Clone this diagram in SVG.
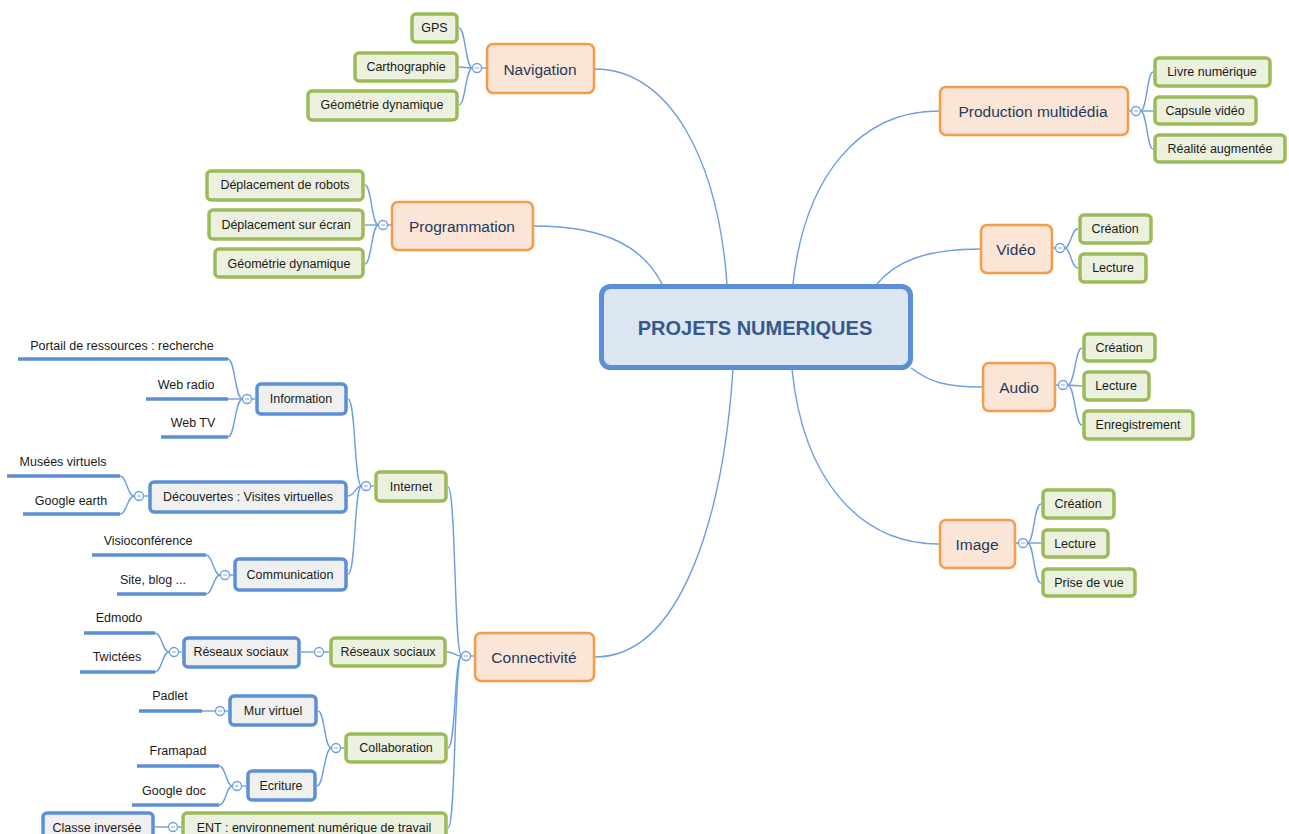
<svg xmlns="http://www.w3.org/2000/svg" width="1289" height="834" viewBox="0 0 1289 834">
  <style>
    text { font-family: "Liberation Sans", Arial, sans-serif; text-anchor: middle; dominant-baseline: central; font-size: 12.5px; fill: #1a1a1a; }
    .link { fill: none; stroke: #6c9ee2; stroke-width: 1.4; }
    .hub rect { fill: #dce6f2; stroke: #5a8ed6; stroke-width: 5; }
    .hub text { font-size: 20px; font-weight: bold; fill: #345a8a; }
    .topic rect { fill: #fbe5d6; stroke: #f79a4a; stroke-width: 2.5; }
    .topic text { font-size: 15.5px; fill: #1f3a60; }
    .leaf rect { fill: #ebf1de; stroke: #9bbb59; stroke-width: 3.5; }
    .sub rect { fill: #f0f0f0; stroke: #5b8fd6; stroke-width: 3.5; }
    .bar line { stroke: #5b8fd6; stroke-width: 3.5; }
    .bar text { dominant-baseline: auto; }
  </style>
  <defs>
    <!-- collapse button: small ring with a minus sign -->
    <g id="tog">
      <circle r="4.5" fill="#ffffff" stroke="#6c9ee2" stroke-width="1.3"/>
      <line x1="-2" y1="0" x2="2" y2="0" stroke="#9ab6dc" stroke-width="1.2"/>
    </g>
  </defs>

  <rect width="1289" height="834" fill="#ffffff"/>

  <!-- branch lines -->
  <g id="connectors">
    <!-- hub to main topics -->
    <path class="link" d="M595,69 C670,69 718,160 727,284"/>
    <path class="link" d="M534,226 C610,226 645,250 662,284"/>
    <path class="link" d="M939,111 C860,111 805,175 793,284"/>
    <path class="link" d="M980,249 C925,249 895,262 877,284"/>
    <path class="link" d="M982,387 C945,387 930,382 911,368"/>
    <path class="link" d="M939,544 C860,544 803,480 792,369"/>
    <path class="link" d="M595,657 C680,657 723,520 733,369"/>

    <!-- Navigation -->
    <path class="link" d="M486,68 L481.5,68"/>
    <path class="link" d="M472.5,68 C465.5,68 465.5,28 459,28"/>
    <path class="link" d="M472.5,68 L459,67"/>
    <path class="link" d="M472.5,68 C465.5,68 465.5,105 459,105"/>

    <!-- Programmation -->
    <path class="link" d="M391,225 L387.5,225"/>
    <path class="link" d="M378.5,225 C371.5,225 371.5,185 365,185"/>
    <path class="link" d="M378.5,225 L365,225"/>
    <path class="link" d="M378.5,225 C371.5,225 371.5,264 365,264"/>

    <!-- Production multimedia -->
    <path class="link" d="M1129,111 L1131.5,111"/>
    <path class="link" d="M1140.5,111 C1147,111 1147,72 1153,72"/>
    <path class="link" d="M1140.5,111 L1153,111"/>
    <path class="link" d="M1140.5,111 C1147,111 1147,149 1153,149"/>

    <!-- Vidéo -->
    <path class="link" d="M1053,248 L1055.5,248"/>
    <path class="link" d="M1064.5,248 C1071,248 1071,229 1078,229"/>
    <path class="link" d="M1064.5,248 C1071,248 1071,268 1078,268"/>

    <!-- Audio -->
    <path class="link" d="M1056,385 L1058.5,385"/>
    <path class="link" d="M1067.5,385 C1075,385 1075,348 1082,348"/>
    <path class="link" d="M1067.5,385 L1082,386"/>
    <path class="link" d="M1067.5,385 C1075,385 1075,425 1082,425"/>

    <!-- Image -->
    <path class="link" d="M1016,543 L1018.5,543"/>
    <path class="link" d="M1027.5,543 C1034,543 1034,504 1041,504"/>
    <path class="link" d="M1027.5,543 L1041,543"/>
    <path class="link" d="M1027.5,543 C1034,543 1034,583 1041,583"/>

    <!-- Connectivité -->
    <path class="link" d="M474,656 L470.5,656"/>
    <path class="link" d="M461.5,656 C454,656 456,487 448,487"/>
    <path class="link" d="M461.5,656 C455,656 454,652 447,652"/>
    <path class="link" d="M461.5,656 C454,656 456,748 448,748"/>
    <path class="link" d="M461.5,656 C454,656 456,828 448,828"/>

    <!-- Internet -->
    <path class="link" d="M374,486 L370.5,486"/>
    <path class="link" d="M361.5,486 C354,486 356,399 348,399"/>
    <path class="link" d="M361.5,486 C355,486 355,496 348,496"/>
    <path class="link" d="M361.5,486 C354,486 356,574 348,574"/>

    <!-- Information -->
    <path class="link" d="M255,399 L251.5,399"/>
    <path class="link" d="M242.5,399 C235,399 235,359 228,359"/>
    <path class="link" d="M242.5,399 L228,399"/>
    <path class="link" d="M242.5,399 C235,399 235,437 228,437"/>

    <!-- Découvertes -->
    <path class="link" d="M148,496 L143.5,496"/>
    <path class="link" d="M134.5,496 C127,496 127,476 120,476"/>
    <path class="link" d="M134.5,496 C127,496 127,514 120,514"/>

    <!-- Communication -->
    <path class="link" d="M233,575 L229.5,575"/>
    <path class="link" d="M220.5,575 C213,575 213,555 206,555"/>
    <path class="link" d="M220.5,575 C213,575 213,594 206,594"/>

    <!-- Réseaux sociaux -->
    <path class="link" d="M329,652 L323.5,652"/>
    <path class="link" d="M314.5,652 L301,652"/>
    <path class="link" d="M182,652 L178.5,652"/>
    <path class="link" d="M169.5,652 C162,652 162,633 155,633"/>
    <path class="link" d="M169.5,652 C162,652 162,672 155,672"/>

    <!-- Collaboration -->
    <path class="link" d="M344,748 L340.5,748"/>
    <path class="link" d="M331.5,748 C324,748 325,711 318,711"/>
    <path class="link" d="M331.5,748 C324,748 324,786 317,786"/>

    <!-- Mur virtuel / Ecriture / ENT -->
    <path class="link" d="M228,711 L224.5,711"/>
    <path class="link" d="M215.5,711 L202,711"/>
    <path class="link" d="M246,786 L241.5,786"/>
    <path class="link" d="M232.5,786 C226,786 226,766 219,766"/>
    <path class="link" d="M232.5,786 C226,786 226,805 219,805"/>
    <path class="link" d="M181,827 L177.5,827"/>
    <path class="link" d="M168.5,827 L155,827"/>
  </g>

  <!-- collapse buttons -->
  <g id="toggles">
    <use href="#tog" x="477" y="68"/>
    <use href="#tog" x="383" y="225"/>
    <use href="#tog" x="1136" y="111"/>
    <use href="#tog" x="1060" y="248"/>
    <use href="#tog" x="1063" y="385"/>
    <use href="#tog" x="1023" y="543"/>
    <use href="#tog" x="466" y="656"/>
    <use href="#tog" x="366" y="486"/>
    <use href="#tog" x="247" y="399"/>
    <use href="#tog" x="139" y="496"/>
    <use href="#tog" x="225" y="575"/>
    <use href="#tog" x="174" y="652"/>
    <use href="#tog" x="319" y="652"/>
    <use href="#tog" x="336" y="748"/>
    <use href="#tog" x="220" y="711"/>
    <use href="#tog" x="237" y="786"/>
    <use href="#tog" x="173" y="827"/>
  </g>

  <!-- central topic -->
  <g id="hub" class="hub">
    <rect x="601.5" y="286.5" width="309" height="81" rx="9"/>
    <text x="755" y="328">PROJETS NUMERIQUES</text>
  </g>

  <!-- main topics -->
  <g id="navigation" class="topic"><rect x="487" y="44" width="107" height="49" rx="6"/><text x="540" y="69">Navigation</text></g>
  <g id="programmation" class="topic"><rect x="392" y="202" width="141" height="48" rx="6"/><text x="462" y="226">Programmation</text></g>
  <g id="production" class="topic"><rect x="940" y="87" width="188" height="48" rx="6"/><text x="1033" y="111">Production multidédia</text></g>
  <g id="video" class="topic"><rect x="981" y="225" width="71" height="48" rx="6"/><text x="1016" y="249">Vidéo</text></g>
  <g id="audio" class="topic"><rect x="983" y="363" width="72" height="48" rx="6"/><text x="1019" y="387">Audio</text></g>
  <g id="image" class="topic"><rect x="940" y="520" width="75" height="48" rx="6"/><text x="977" y="544">Image</text></g>
  <g id="connectivite" class="topic"><rect x="475" y="633" width="119" height="48" rx="6"/><text x="534" y="657">Connectivité</text></g>

  <!-- Navigation children -->
  <g id="nav-gps" class="leaf"><rect x="412" y="14" width="45" height="28" rx="4"/><text x="434.5" y="28">GPS</text></g>
  <g id="nav-carto" class="leaf"><rect x="355" y="53" width="102" height="28" rx="4"/><text x="406" y="67">Carthographie</text></g>
  <g id="nav-geo" class="leaf"><rect x="308" y="91" width="149" height="29" rx="4"/><text x="382" y="105">Géométrie dynamique</text></g>

  <!-- Programmation children -->
  <g id="prog-robots" class="leaf"><rect x="207" y="171" width="156" height="29" rx="4"/><text x="285" y="185">Déplacement de robots</text></g>
  <g id="prog-ecran" class="leaf"><rect x="209" y="210" width="154" height="29" rx="4"/><text x="286" y="225">Déplacement sur écran</text></g>
  <g id="prog-geo" class="leaf"><rect x="215" y="249" width="148" height="28" rx="4"/><text x="289" y="264">Géométrie dynamique</text></g>

  <!-- Production children -->
  <g id="prod-livre" class="leaf"><rect x="1155" y="58" width="115" height="28" rx="4"/><text x="1212" y="72">Livre numérique</text></g>
  <g id="prod-capsule" class="leaf"><rect x="1155" y="97" width="101" height="27" rx="4"/><text x="1205" y="111">Capsule vidéo</text></g>
  <g id="prod-ra" class="leaf"><rect x="1155" y="135" width="130" height="27" rx="4"/><text x="1220" y="149">Réalité augmentée</text></g>

  <!-- Vidéo children -->
  <g id="video-creation" class="leaf"><rect x="1080" y="215" width="71" height="28" rx="4"/><text x="1115" y="229">Création</text></g>
  <g id="video-lecture" class="leaf"><rect x="1080" y="254" width="66" height="28" rx="4"/><text x="1113" y="268">Lecture</text></g>

  <!-- Audio children -->
  <g id="audio-creation" class="leaf"><rect x="1084" y="334" width="71" height="27" rx="4"/><text x="1119" y="348">Création</text></g>
  <g id="audio-lecture" class="leaf"><rect x="1084" y="372" width="65" height="28" rx="4"/><text x="1116" y="386">Lecture</text></g>
  <g id="audio-enreg" class="leaf"><rect x="1084" y="411" width="109" height="28" rx="4"/><text x="1138" y="425">Enregistrement</text></g>

  <!-- Image children -->
  <g id="image-creation" class="leaf"><rect x="1043" y="490" width="71" height="28" rx="4"/><text x="1078" y="504">Création</text></g>
  <g id="image-lecture" class="leaf"><rect x="1043" y="530" width="65" height="27" rx="4"/><text x="1075" y="544">Lecture</text></g>
  <g id="image-prise" class="leaf"><rect x="1043" y="569" width="92" height="27" rx="4"/><text x="1089" y="583">Prise de vue</text></g>

  <!-- Connectivité children -->
  <g id="internet" class="leaf"><rect x="376" y="472" width="70" height="29" rx="4"/><text x="411" y="487">Internet</text></g>
  <g id="reseaux" class="leaf"><rect x="331" y="638" width="114" height="28" rx="4"/><text x="388" y="652">Réseaux sociaux</text></g>
  <g id="collaboration" class="leaf"><rect x="346" y="734" width="100" height="28" rx="4"/><text x="396" y="748">Collaboration</text></g>
  <g id="ent" class="leaf"><rect x="183" y="813" width="263" height="40" rx="4"/><text x="314" y="828">ENT : environnement numérique de travail</text></g>

  <!-- Internet sub-topics -->
  <g id="information" class="sub"><rect x="257" y="384" width="89" height="30" rx="4"/><text x="301" y="399">Information</text></g>
  <g id="decouvertes" class="sub"><rect x="150" y="482" width="196" height="30" rx="4"/><text x="248" y="497">Découvertes : Visites virtuelles</text></g>
  <g id="communication" class="sub"><rect x="235" y="559" width="111" height="31" rx="4"/><text x="290" y="575">Communication</text></g>
  <g id="reseaux-sub" class="sub"><rect x="184" y="638" width="115" height="29" rx="4"/><text x="241" y="652">Réseaux sociaux</text></g>
  <g id="mur" class="sub"><rect x="230" y="696" width="86" height="29" rx="4"/><text x="273" y="711">Mur virtuel</text></g>
  <g id="ecriture" class="sub"><rect x="248" y="771" width="67" height="29" rx="4"/><text x="281" y="786">Ecriture</text></g>
  <g id="classe" class="sub"><rect x="43" y="813" width="110" height="40" rx="4"/><text x="97" y="828">Classe inversée</text></g>

  <!-- underlined items -->
  <g id="portail" class="bar"><line x1="18" y1="359" x2="228" y2="359"/><text x="122" y="350">Portail de ressources : recherche</text></g>
  <g id="webradio" class="bar"><line x1="146" y1="399" x2="228" y2="399"/><text x="186" y="389">Web radio</text></g>
  <g id="webtv" class="bar"><line x1="161" y1="437" x2="228" y2="437"/><text x="193" y="427">Web TV</text></g>
  <g id="musees" class="bar"><line x1="7" y1="476" x2="120" y2="476"/><text x="63" y="466">Musées virtuels</text></g>
  <g id="googleearth" class="bar"><line x1="23" y1="514" x2="120" y2="514"/><text x="71" y="505">Google earth</text></g>
  <g id="visio" class="bar"><line x1="92" y1="555" x2="206" y2="555"/><text x="148" y="545">Visioconférence</text></g>
  <g id="siteblog" class="bar"><line x1="117" y1="594" x2="206" y2="594"/><text x="153" y="584">Site, blog ...</text></g>
  <g id="edmodo" class="bar"><line x1="84" y1="633" x2="155" y2="633"/><text x="119" y="622">Edmodo</text></g>
  <g id="twictees" class="bar"><line x1="80" y1="672" x2="155" y2="672"/><text x="117" y="661">Twictées</text></g>
  <g id="padlet" class="bar"><line x1="139" y1="711" x2="202" y2="711"/><text x="170" y="700">Padlet</text></g>
  <g id="framapad" class="bar"><line x1="137" y1="766" x2="219" y2="766"/><text x="178" y="755">Framapad</text></g>
  <g id="googledoc" class="bar"><line x1="132" y1="805" x2="219" y2="805"/><text x="174" y="795">Google doc</text></g>
</svg>
